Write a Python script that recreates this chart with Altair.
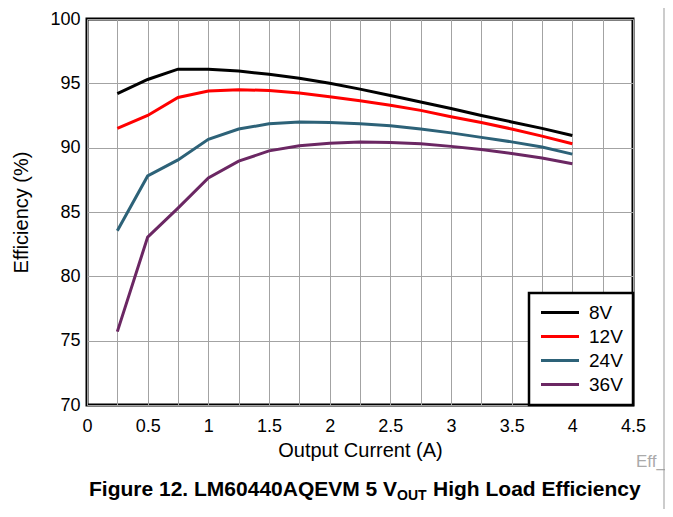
import altair as alt
import pandas as pd

# ---- data ----
current = [0.25, 0.5, 0.75, 1.0, 1.25, 1.5, 1.75, 2.0, 2.25, 2.5, 2.75, 3.0, 3.25, 3.5, 3.75, 4.0]
eff_8v = [94.2, 95.3, 96.1, 96.1, 95.95, 95.7, 95.4, 95.0, 94.55, 94.05, 93.55, 93.05, 92.5, 92.0, 91.5, 90.95]
eff_12v = [91.5, 92.5, 93.9, 94.4, 94.5, 94.45, 94.25, 93.95, 93.65, 93.3, 92.9, 92.4, 91.95, 91.45, 90.9, 90.3]
eff_24v = [83.55, 87.8, 89.05, 90.65, 91.45, 91.85, 92.0, 91.95, 91.85, 91.7, 91.45, 91.15, 90.8, 90.45, 90.05, 89.5]
eff_36v = [75.7, 83.05, 85.3, 87.65, 88.95, 89.75, 90.15, 90.35, 90.45, 90.4, 90.3, 90.1, 89.85, 89.55, 89.2, 88.75]

series_names = ["8V", "12V", "24V", "36V"]
series_colors = ["#000000", "#ff0000", "#2d6278", "#6b2763"]

x_ticks = [0, 0.25, 0.5, 0.75, 1, 1.25, 1.5, 1.75, 2, 2.25, 2.5, 2.75, 3, 3.25, 3.5, 3.75, 4, 4.25, 4.5]
y_ticks = [70, 75, 80, 85, 90, 95, 100]

rows = []
for name, vals in zip(series_names, [eff_8v, eff_12v, eff_24v, eff_36v]):
    for c, v in zip(current, vals):
        rows.append({"current": c, "eff": v, "vin": name})
df = pd.DataFrame(rows)

FONT = "Liberation Sans"
W, H = 546, 386

lines = alt.Chart(df).mark_line(strokeWidth=3, clip=True).encode(
    x=alt.X("current:Q",
            scale=alt.Scale(domain=[0, 4.5], nice=False, zero=False),
            axis=alt.Axis(values=x_ticks,
                          labelExpr="(datum.value * 2) % 1 == 0 ? format(datum.value, '~g') : ''",
                          labelOverlap=False, labelFlush=False,
                          title="Output Current (A)")),
    y=alt.Y("eff:Q",
            scale=alt.Scale(domain=[70, 100], nice=False, zero=False),
            axis=alt.Axis(values=y_ticks, title="Efficiency (%)", labelFlush=False)),
    color=alt.Color("vin:N",
                    scale=alt.Scale(domain=series_names, range=series_colors),
                    legend=alt.Legend(title=None, orient="bottom-right", offset=0,
                                      fillColor="white", strokeColor="black",
                                      padding=10,
                                      symbolType="M-0.9375,0H3.8125", symbolSize=256,
                                      symbolStrokeWidth=3,
                                      labelFontSize=19, labelOffset=31,
                                      rowPadding=4, labelFont=FONT)),
    order="current:Q",
)

def text_layer(txt, x, y, size, weight="normal", color="black", align="left"):
    return alt.Chart(pd.DataFrame({"t": [txt]})).mark_text(
        font=FONT, fontSize=size, fontWeight=weight, color=color,
        align=align, baseline="alphabetic"
    ).encode(text="t:N", x=alt.value(x), y=alt.value(y))

cap1 = text_layer("Figure 12. LM60440AQEVM 5 V", 2, 477, 21, "bold")
cap2 = text_layer("OUT", 310, 481, 14, "bold")
cap3 = text_layer("High Load Efficiency", 346, 477, 21, "bold")
eff_tag = text_layer("Eff_", 549, 448, 17, color="#aaaaaa")

frame = alt.Chart(pd.DataFrame({"k": [0]})).mark_rule(color="#999999", strokeWidth=1).encode(
    x=alt.value(577), y=alt.value(-11), y2=alt.value(H + 104)
)

chart = alt.layer(lines, cap1, cap2, cap3, eff_tag, frame).properties(
    width=W, height=H,
    autosize=alt.AutoSizeParams(type="none"),
    padding={"left": 79, "top": 11, "right": 32, "bottom": 104},
).configure(font=FONT).configure_view(
    stroke="black", strokeWidth=3
).configure_legend(
    strokeWidth=2.5
).configure_axis(
    grid=True, gridColor="#a3a3a3", gridWidth=1, ticks=False, domain=False,
    labelFontSize=18, labelColor="black", labelFont=FONT,
    titleFontSize=20, titleFontWeight="normal", titleColor="black", titleFont=FONT,
).configure_axisX(
    labelPadding=12, titlePadding=5
).configure_axisY(
    labelPadding=7, titlePadding=18
)

chart.save("out.html", embed_options={"renderer": "svg", "actions": False})
